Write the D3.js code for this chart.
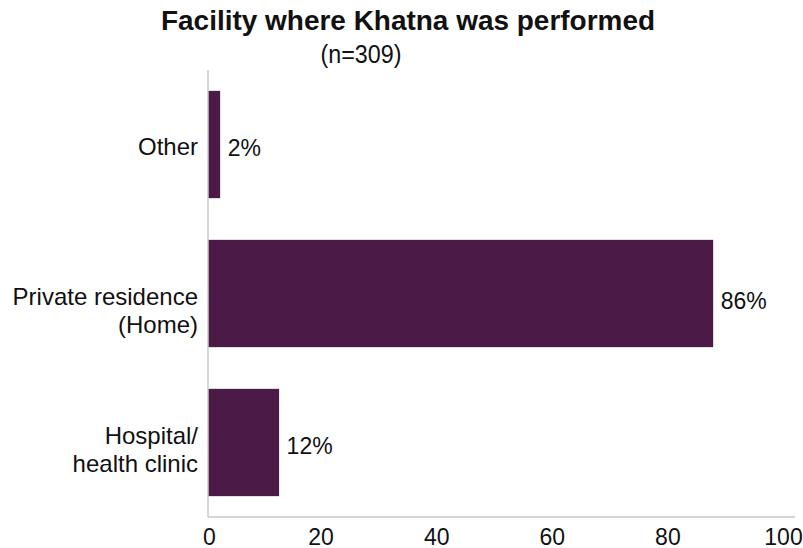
<!DOCTYPE html>
<html>
<head>
<meta charset="utf-8">
<script src="https://cdn.jsdelivr.net/npm/d3@7"></script>
<style>
  html, body { margin: 0; padding: 0; background: #fff; }
  text { font-family: "Liberation Sans", Arial, Helvetica, sans-serif; fill: #111; }
</style>
</head>
<body>
<svg id="chart" width="803" height="548"></svg>
<script>
// ---- data ----
const categories = [["Other"], ["Private residence", "(Home)"], ["Hospital/", "health clinic"]];
const values = [2.1, 87.4, 12.3];
const valueLabels = ["2%", "86%", "12%"];
const tickValues = [0, 20, 40, 60, 80, 100];
const titleText = "Facility where Khatna was performed";
const subtitleText = "(n=309)";

// ---- layout ----
const svg = d3.select("#chart");
const plotLeft = 208, plotRight = 786, plotTop = 70, plotBottom = 517;

const x = d3.scaleLinear().domain([0, 100]).range([plotLeft, plotRight]);
const y = d3.scaleBand().domain(d3.range(categories.length))
  .range([plotTop, plotBottom]).paddingInner(0.28).paddingOuter(0.14);

// title
svg.append("text").attr("x", 408).attr("y", 30)
  .attr("text-anchor", "middle").style("font-size", "28px").style("font-weight", "bold")
  .attr("textLength", 494).attr("lengthAdjust", "spacingAndGlyphs")
  .text(titleText);
svg.append("text").attr("x", 361).attr("y", 63)
  .attr("text-anchor", "middle").style("font-size", "25px")
  .attr("textLength", 81).attr("lengthAdjust", "spacingAndGlyphs")
  .text(subtitleText);

// bars
svg.append("g").selectAll("rect").data(values).join("rect")
  .attr("x", x(0))
  .attr("y", (d, i) => y(i))
  .attr("width", d => x(d) - x(0))
  .attr("height", y.bandwidth())
  .attr("fill", "#4b1a47");

// axes lines
svg.append("line").attr("x1", plotLeft).attr("x2", plotLeft).attr("y1", plotTop).attr("y2", plotBottom)
  .attr("stroke", "#c8c8c8").attr("stroke-width", 1.5);
svg.append("line").attr("x1", plotLeft).attr("x2", 795).attr("y1", plotBottom).attr("y2", plotBottom)
  .attr("stroke", "#c8c8c8").attr("stroke-width", 1.5);

// x tick labels via d3 axis
const xAxis = d3.axisBottom(x).tickValues(tickValues).tickSize(0).tickPadding(0).tickFormat(d3.format("d"));
const gx = svg.append("g").attr("transform", `translate(0,${plotBottom})`).call(xAxis);
gx.select(".domain").remove();
gx.selectAll("text").attr("y", 27.5).attr("dy", 0).attr("dx", (d) => d === 0 ? 1 : -3)
  .style("font-size", "23px").style("font-family", "'Liberation Sans', Arial, sans-serif").attr("fill", "#111");

// category labels
const labelShift = [2, 17, 7];
const lineH = 27.5;
const catG = svg.append("g");
categories.forEach((lines, i) => {
  const cy = y(i) + y.bandwidth() / 2 + labelShift[i];
  const n = lines.length;
  lines.forEach((ln, j) => {
    const centerLine = cy + (j - (n - 1) / 2) * lineH;
    catG.append("text").attr("x", 198).attr("y", centerLine + 8.5)
      .attr("text-anchor", "end").style("font-size", "24px").text(ln);
  });
});

// value labels
const valShift = [3, 7, 3];
svg.append("g").selectAll("text").data(values).join("text")
  .attr("x", d => x(d) + 7.5)
  .attr("y", (d, i) => y(i) + y.bandwidth() / 2 + valShift[i] + 8.5)
  .style("font-size", "23px")
  .text((d, i) => valueLabels[i]);
</script>
</body>
</html>
